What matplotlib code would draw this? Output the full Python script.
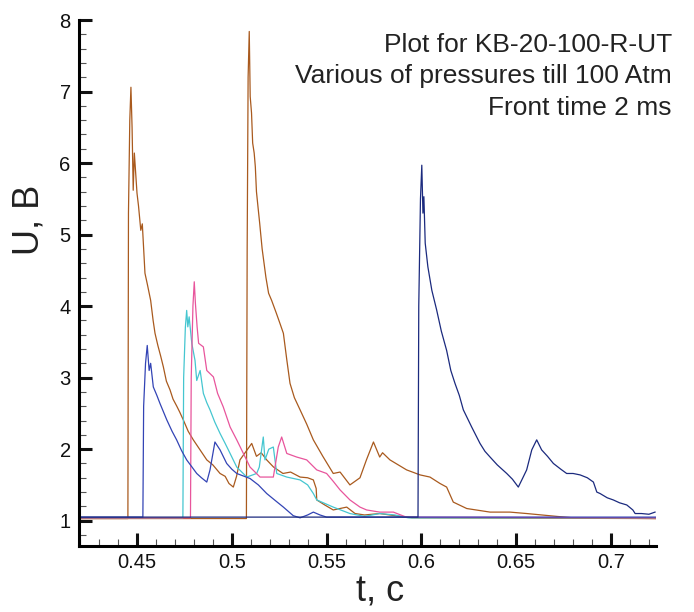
import numpy as np
import matplotlib
matplotlib.use("Agg")
import matplotlib.pyplot as plt
from matplotlib.ticker import MultipleLocator

plt.rcParams["font.family"] = ["Liberation Sans", "DejaVu Sans"]

# brown, first shot (~0.445 s)
t_br1 = [0.4194, 0.4452, 0.4455, 0.4462, 0.4468, 0.4474, 0.448, 0.4486, 0.4492, 0.45, 0.4508,
         0.452, 0.4528, 0.4542, 0.4555, 0.4572, 0.4585, 0.4595, 0.461, 0.4625, 0.4639, 0.4655,
         0.4674, 0.469, 0.471, 0.4725, 0.4744, 0.477, 0.4797, 0.483, 0.4868, 0.49, 0.4938,
         0.4965, 0.4985, 0.5008, 0.5025, 0.5043, 0.507, 0.5105, 0.513, 0.5155, 0.5184, 0.522,
         0.527, 0.531, 0.536, 0.54, 0.543, 0.5445, 0.5448, 0.549, 0.5535, 0.5606, 0.565, 0.57,
         0.578, 0.586, 0.595, 0.7237]
u_br1 = [1.03, 1.03, 5.3, 6.6, 7.06, 6.5, 5.62, 6.14, 5.9, 5.58, 5.4,
         5.06, 5.15, 4.46, 4.3, 4.08, 3.8, 3.62, 3.45, 3.3, 3.15, 2.95,
         2.83, 2.7, 2.6, 2.52, 2.41, 2.25, 2.13, 2.0, 1.85, 1.78, 1.66,
         1.62, 1.52, 1.47, 1.62, 1.85, 1.95, 2.08, 1.9, 1.95, 1.85, 1.75,
         1.66, 1.68, 1.61, 1.6, 1.57, 1.45, 1.29, 1.22, 1.15, 1.19, 1.1, 1.08,
         1.1, 1.07, 1.04, 1.03]

# brown, second shot (~0.508 s)
t_br2 = [0.4194, 0.5077, 0.5081, 0.5086, 0.5092, 0.5097, 0.5104, 0.511, 0.5118, 0.5124, 0.513,
         0.5138, 0.5147, 0.5152, 0.516, 0.5168, 0.518, 0.5194, 0.521, 0.5235, 0.5255, 0.5272,
         0.529, 0.5307, 0.533, 0.536, 0.5395, 0.543, 0.548, 0.5535, 0.5571, 0.5623, 0.5676,
         0.571, 0.5747, 0.578, 0.5795, 0.5834, 0.5878, 0.5922, 0.5993, 0.6045, 0.6098, 0.6133,
         0.6168, 0.6239, 0.6362, 0.6467, 0.6555, 0.6714, 0.68, 0.7237]
u_br2 = [1.03, 1.03, 4.8, 7.2, 7.84, 6.93, 6.70, 6.28, 6.14, 5.95, 5.6,
         5.39, 5.16, 5.02, 4.8, 4.64, 4.4, 4.18, 4.08, 3.9, 3.75, 3.62,
         3.25, 2.92, 2.72, 2.55, 2.35, 2.13, 1.9, 1.66, 1.68, 1.5, 1.6,
         1.85, 2.10, 1.89, 1.95, 1.85, 1.78, 1.71, 1.64, 1.61, 1.52, 1.47,
         1.26, 1.17, 1.12, 1.12, 1.1, 1.06, 1.04, 1.03]

# cyan
t_cy = [0.4194, 0.4742, 0.4746, 0.4755, 0.4762, 0.4768, 0.4775, 0.4789, 0.4806, 0.4815, 0.4833,
        0.485, 0.4868, 0.4885, 0.491, 0.4938, 0.4965, 0.4991, 0.5026, 0.5079, 0.5131, 0.5145,
        0.5166, 0.5175, 0.5195, 0.5219, 0.5237, 0.529, 0.536, 0.54, 0.543, 0.5448, 0.5535,
        0.5623, 0.57, 0.578, 0.586, 0.593, 0.7237]
u_cy = [1.04, 1.04, 3.0, 3.7, 3.94, 3.71, 3.85, 3.48, 3.24, 2.96, 3.1,
        2.78, 2.65, 2.55, 2.38, 2.22, 2.08, 1.94, 1.75, 1.61, 1.66, 1.75,
        2.17, 1.85, 2.0, 2.03, 1.66, 1.61, 1.57, 1.5, 1.38, 1.29, 1.19,
        1.1, 1.06, 1.1, 1.08, 1.04, 1.04]

# pink
t_pk = [0.4194, 0.4782, 0.4786, 0.4795, 0.4802, 0.4808, 0.4817, 0.4825, 0.485, 0.4868, 0.4903,
        0.4925, 0.4955, 0.4991, 0.5026, 0.5061, 0.5096, 0.5149, 0.5219, 0.5245, 0.5263, 0.529,
        0.5342, 0.5395, 0.5448, 0.55, 0.5535, 0.5571, 0.5623, 0.5676, 0.5711, 0.578, 0.5852,
        0.592, 0.7237]
u_pk = [1.04, 1.04, 3.0, 4.0, 4.34, 4.04, 3.71, 3.48, 3.43, 3.1, 3.01,
        2.78, 2.59, 2.31, 2.13, 1.94, 1.75, 1.61, 1.61, 2.03, 2.17, 1.94,
        1.89, 1.85, 1.71, 1.66, 1.55, 1.43, 1.29, 1.19, 1.15, 1.12, 1.12,
        1.05, 1.04]

# blue (~0.453 s)
t_bl = [0.4194, 0.4531, 0.4535, 0.4545, 0.4554, 0.4564, 0.4572, 0.4586, 0.4605, 0.4621, 0.4657,
        0.4685, 0.4709, 0.4735, 0.4762, 0.479, 0.4815, 0.484, 0.4868, 0.4885, 0.4911, 0.4938,
        0.4973, 0.5, 0.5026, 0.5096, 0.514, 0.5184, 0.523, 0.5272, 0.5324, 0.536, 0.54, 0.543,
        0.5465, 0.55, 0.7237]
u_bl = [1.05, 1.05, 2.6, 3.2, 3.45, 3.1, 3.2, 2.87, 2.75, 2.64, 2.41,
        2.25, 2.13, 1.98, 1.85, 1.75, 1.66, 1.6, 1.54, 1.71, 2.1, 1.99,
        1.8, 1.72, 1.66, 1.59, 1.5, 1.38, 1.28, 1.19, 1.07, 1.04, 1.08, 1.12,
        1.08, 1.05, 1.05]

# navy (~0.6 s)
t_nv = [0.4194, 0.5982, 0.5986, 0.5995, 0.6002, 0.6008, 0.6013, 0.602, 0.6034, 0.6055, 0.608,
        0.6105, 0.6133, 0.6155, 0.6177, 0.62, 0.6221, 0.6265, 0.6309, 0.6335, 0.6362, 0.64,
        0.645, 0.648, 0.6511, 0.6535, 0.6555, 0.6582, 0.6608, 0.6634, 0.6665, 0.6696, 0.6735,
        0.6766, 0.68, 0.6837, 0.6875, 0.6907, 0.6925, 0.6942, 0.698, 0.7012, 0.7045, 0.7083,
        0.7115, 0.7127, 0.716, 0.72, 0.7232]
u_nv = [1.05, 1.05, 4.0, 5.5, 5.97, 5.3, 5.53, 4.88, 4.55, 4.22, 3.95,
        3.65, 3.38, 3.1, 2.92, 2.75, 2.55, 2.31, 2.08, 1.97, 1.89, 1.78,
        1.66, 1.58, 1.47, 1.6, 1.71, 1.99, 2.13, 1.99, 1.9, 1.8, 1.72,
        1.66, 1.66, 1.64, 1.6, 1.54, 1.4, 1.38, 1.32, 1.29, 1.25, 1.22,
        1.15, 1.1, 1.1, 1.09, 1.12]

fig = plt.figure(figsize=(6.94, 6.12), dpi=100)
ax = fig.add_axes([0.1138, 0.1083, 0.8314, 0.8590])

ax.plot(t_br1, u_br1, color="#a95a1e", lw=0.9)
ax.plot(t_br2, u_br2, color="#a95a1e", lw=0.9)
ax.plot(t_cy, u_cy, color="#45c6d0", lw=0.9)
ax.plot(t_pk, u_pk, color="#e8559c", lw=0.9)
ax.plot(t_bl, u_bl, color="#3344b5", lw=0.9)
ax.plot(t_nv, u_nv, color="#1b2a7e", lw=0.9)

ax.set_xlim(0.4194, 0.7237)
ax.set_ylim(0.65, 8.0)

ax.spines["top"].set_visible(False)
ax.spines["right"].set_visible(False)
ax.spines["left"].set_linewidth(2.2)
ax.spines["bottom"].set_linewidth(2.2)

ax.set_xticks([0.45, 0.5, 0.55, 0.6, 0.65, 0.7])
ax.set_xticklabels(["0.45", "0.5", "0.55", "0.6", "0.65", "0.7"])
ax.set_yticks([1, 2, 3, 4, 5, 6, 7, 8])
ax.xaxis.set_minor_locator(MultipleLocator(0.01))
ax.yaxis.set_minor_locator(MultipleLocator(0.2))
ax.tick_params(which="major", direction="in", length=9.5, width=2.2, labelsize=14.5, colors="#111111")
ax.tick_params(which="minor", direction="in", length=5, width=0.8, color="#555555")
ax.tick_params(axis="x", which="major", pad=5)
ax.tick_params(axis="y", which="major", pad=6)

fig.text(0.5475, 0.033, "t, c", fontsize=26, ha="center", va="center", color="#222222")
fig.text(0.042, 1 - 220 / 612, "U, B", fontsize=26, rotation=90, ha="center", va="center", color="#222222")

fig.text(0.968, 1 - 52 / 612, "Plot for KB-20-100-R-UT", fontsize=19, ha="right", va="baseline", color="#222222")
fig.text(0.968, 1 - 83.5 / 612, "Various of pressures till 100 Atm", fontsize=19, ha="right", va="baseline", color="#222222")
fig.text(0.968, 1 - 115 / 612, "Front time 2 ms", fontsize=19, ha="right", va="baseline", color="#222222")

fig.savefig("out.png", dpi=100)
